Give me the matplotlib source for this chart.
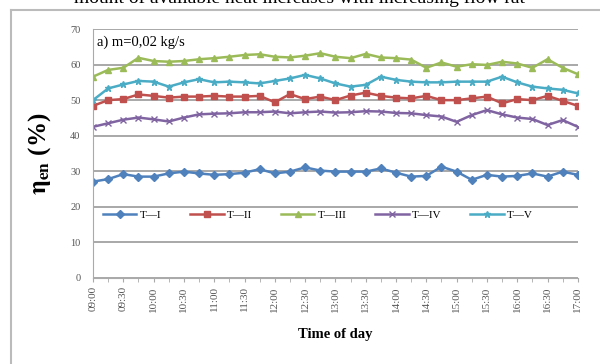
import numpy as np
import matplotlib
matplotlib.use("Agg")
import matplotlib.pyplot as plt
from matplotlib.lines import Line2D

plt.rcParams['font.family'] = ['Liberation Serif', 'DejaVu Serif']
plt.rcParams['mathtext.fontset'] = 'stix'

# time axis: 09:00 .. 17:00 every 15 min
times = ["09:00", "09:15", "09:30", "09:45", "10:00", "10:15", "10:30", "10:45",
         "11:00", "11:15", "11:30", "11:45", "12:00", "12:15", "12:30", "12:45",
         "13:00", "13:15", "13:30", "13:45", "14:00", "14:15", "14:30", "14:45",
         "15:00", "15:15", "15:30", "15:45", "16:00", "16:15", "16:30", "16:45", "17:00"]

t1 = [27.1, 27.8, 29.2, 28.5, 28.5, 29.4, 29.9, 29.4, 29.0, 29.2, 29.6, 30.6, 29.4, 29.9, 31.1, 30.2, 29.9,
      29.9, 29.9, 30.8, 29.6, 28.5, 28.7, 31.3, 29.9, 27.6, 29.0, 28.5, 28.7, 29.4, 28.5, 29.9, 29.0]
t2 = [48.4, 50.0, 50.3, 51.6, 51.2, 50.7, 51.0, 51.0, 51.2, 51.0, 51.0, 51.2, 49.4, 51.7, 50.3, 51.0, 50.0,
      51.3, 52.1, 51.2, 50.7, 50.5, 51.2, 50.0, 50.0, 50.5, 51.0, 49.1, 50.3, 50.0, 51.2, 49.8, 48.4]
t3 = [56.6, 58.5, 59.1, 61.9, 61.0, 60.8, 61.0, 61.5, 61.8, 62.2, 62.7, 62.9, 62.2, 62.0, 62.5, 63.2, 62.2,
      61.8, 63.0, 62.0, 61.8, 61.4, 59.1, 60.6, 59.4, 60.1, 59.9, 60.8, 60.3, 59.1, 61.5, 59.1, 57.3]
t4 = [42.5, 43.5, 44.5, 45.1, 44.6, 44.0, 45.1, 46.0, 46.2, 46.3, 46.6, 46.6, 46.8, 46.3, 46.6, 46.8, 46.5,
      46.6, 46.9, 46.8, 46.4, 46.3, 45.8, 45.4, 43.9, 45.8, 47.2, 46.0, 45.1, 44.7, 43.0, 44.4, 42.5]
t5 = [50.0, 53.3, 54.4, 55.4, 55.2, 53.8, 55.0, 55.9, 55.0, 55.2, 55.0, 54.7, 55.4, 56.1, 57.1, 56.1, 54.7,
      53.8, 54.3, 56.6, 55.7, 55.2, 55.0, 55.0, 55.2, 55.2, 55.2, 56.6, 55.0, 53.8, 53.3, 52.9, 51.9]

labels = ["T\u2014I", "T\u2014II", "T\u2014III", "T\u2014IV", "T\u2014V"]
colors = ["#4F81BD", "#C0504D", "#9BBB59", "#8064A2", "#4BACC6"]
markers = ["D", "s", "^", "x", "*"]

fig = plt.figure(figsize=(6.0, 3.64), dpi=100)
ax = fig.add_axes([0.155, 0.2363, 0.808, 0.684])

x = np.arange(len(times))
for data, lab, c, m in zip([t1, t2, t3, t4, t5], labels, colors, markers):
    ms = 4.5 if m in ("s", "*", "x") else 4
    ax.plot(x, data, color=c, marker=m, markersize=ms, linewidth=1.8, label=lab,
            markeredgewidth=1.0)

ax.set_xlim(0, len(times) - 1)
ax.set_ylim(0, 70)
ax.set_yticks(range(0, 71, 10))
ax.set_xticks(x[::2])
ax.set_xticklabels(times[::2], rotation=90, fontsize=8, color="#555555")
ax.set_xticks(x, minor=True)
ax.tick_params(axis="y", labelsize=7.5, labelcolor="#555555", length=0, pad=9)
ax.tick_params(axis="x", which="both", length=3, color="#aaaaaa", direction="out", pad=3)

ax.grid(axis="y", color="#999999", linewidth=1.2)
ax.set_axisbelow(True)
for s in ["top", "right"]:
    ax.spines[s].set_visible(False)
ax.spines["left"].set_color("#aaaaaa")
ax.spines["bottom"].set_color("#aaaaaa")

ax.text(0.25, 66.3, "a) m=0,02 kg/s", fontsize=10.5, va="center", ha="left")

ax.set_xlabel("Time of day", fontsize=10.5, fontweight="bold", labelpad=12)
ax.set_ylabel(r"$\mathbf{\eta}_{\mathbf{en}}$ (%)", fontsize=18, fontweight="bold", labelpad=12)

leg = ax.legend(loc="center", bbox_to_anchor=(0.464, 17.6 / 70), ncol=5, frameon=False,
                fontsize=8, handlelength=3.0, columnspacing=2.6, handletextpad=0.3)

# outer chart border
fig.add_artist(Line2D([11 / 600, 1.0], [1 - 10 / 364, 1 - 10 / 364], color="#bbbbbb", linewidth=1.5))
fig.add_artist(Line2D([11 / 600, 11 / 600], [0, 1 - 10 / 364], color="#bbbbbb", linewidth=1.5))

# surrounding document text, cut at the top edge as in the page crop
fig.text(0.5, 1 - 3 / 364, "mount of available heat increases with increasing flow rat",
         fontsize=14, ha="center", va="baseline")

fig.savefig("out.png", dpi=100)
